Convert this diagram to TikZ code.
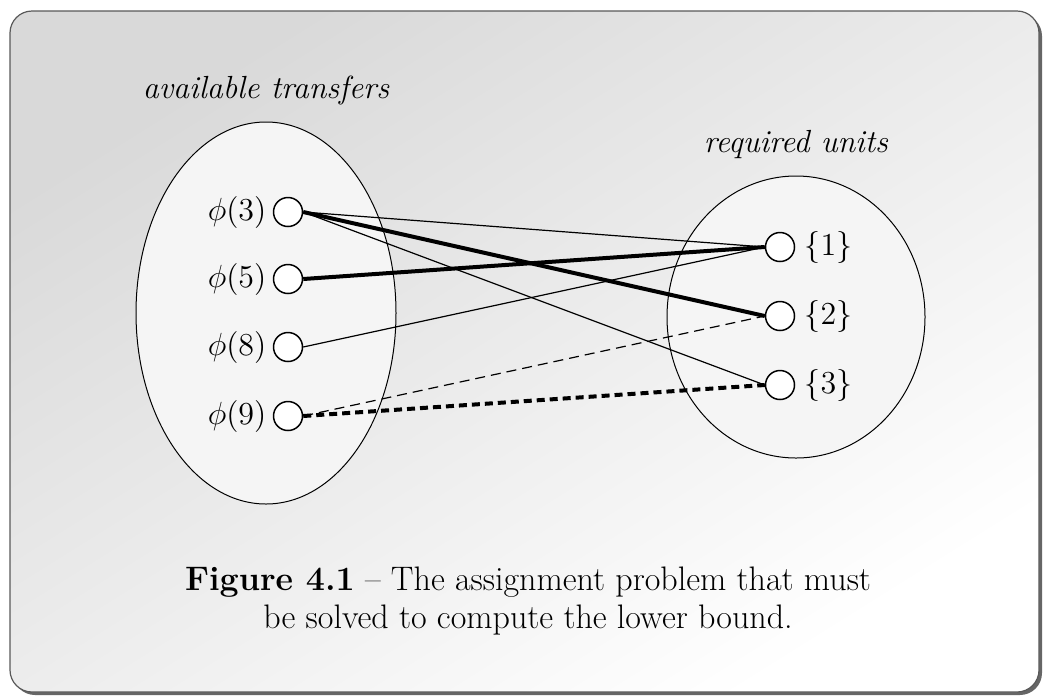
\RequirePackage{fix-cm}
\documentclass[tikz,border=0pt]{standalone}
\usepackage{fontspec}
\usetikzlibrary{shapes.geometric}
\tikzset{
  shadowbox/.style={fill=black!60, rounded corners=11pt},
  framebox/.style={draw=black!65, line width=0.6pt, rounded corners=11pt,
    top color=black!15, bottom color=white, shading angle=32},
  setellipse/.style={ellipse, draw=black, line width=0.5pt, fill=black!4, inner sep=0pt},
  vert/.style={circle, draw=black, fill=white, line width=0.75pt, minimum size=14.5pt, inner sep=0pt},
  lab/.style={inner sep=0pt},
  ttl/.style={font=\fontsize{16}{19}\selectfont\itshape, anchor=base, inner sep=0pt},
  captext/.style={font=\fontsize{17}{19}\selectfont, anchor=base, inner sep=0pt},
  thinedge/.style={line width=0.6pt},
  thickedge/.style={line width=2pt},
  thindash/.style={line width=0.6pt, dash pattern=on 5pt off 3pt},
  thickdash/.style={line width=2pt, dash pattern=on 4pt off 2.5pt},
}
\begin{document}
\begin{tikzpicture}[x=0.5pt, y=-0.5pt, font=\fontsize{16}{19}\selectfont]
\useasboundingbox (0,0) rectangle (1043,697);
% frame
\path[shadowbox] (13,14) rectangle (1042,695);
\path[framebox] (10,11) rectangle (1039,692);
% sets
\node[setellipse, minimum width=130pt, minimum height=191pt] (L) at (266,313) {};
\node[setellipse, minimum width=129pt, minimum height=141pt] (R) at (796,317) {};
\node[ttl] (tl) at (266,98) {available transfers};
\node[ttl] (tr) at (796,152) {required units};
% vertices
\node[vert] (a3) at (288,212) {};
\node[vert] (a5) at (288,279) {};
\node[vert] (a8) at (288,347) {};
\node[vert] (a9) at (288,416) {};
\node[vert] (b1) at (780,247) {};
\node[vert] (b2) at (780,316) {};
\node[vert] (b3) at (780,385) {};
% labels
\node[lab, anchor=east] (la3) at ([xshift=-3pt]a3.west) {$\phi(3)$};
\node[lab, anchor=east] (la5) at ([xshift=-3pt]a5.west) {$\phi(5)$};
\node[lab, anchor=east] (la8) at ([xshift=-3pt]a8.west) {$\phi(8)$};
\node[lab, anchor=east] (la9) at ([xshift=-3pt]a9.west) {$\phi(9)$};
\node[lab, anchor=west] (lb1) at ([xshift=4.5pt]b1.east) {$\{1\}$};
\node[lab, anchor=west] (lb2) at ([xshift=4.5pt]b2.east) {$\{2\}$};
\node[lab, anchor=west] (lb3) at ([xshift=4.5pt]b3.east) {$\{3\}$};
% edges
\draw[thinedge] (a3.east) -- (b1.west);
\draw[thickedge] (a3.east) -- (b2.west);
\draw[thinedge] (a3.east) -- (b3.west);
\draw[thickedge] (a5.east) -- (b1.west);
\draw[thinedge] (a8.east) -- (b1.west);
\draw[thindash] (a9.east) -- (b2.west);
\draw[thickdash] (a9.east) -- (b3.west);
% caption
\node[captext] (c1) at (528,590) {\textbf{Figure 4.1} -- The assignment problem that must};
\node[captext] (c2) at (528,628) {be solved to compute the lower bound.};
\end{tikzpicture}
\end{document}
